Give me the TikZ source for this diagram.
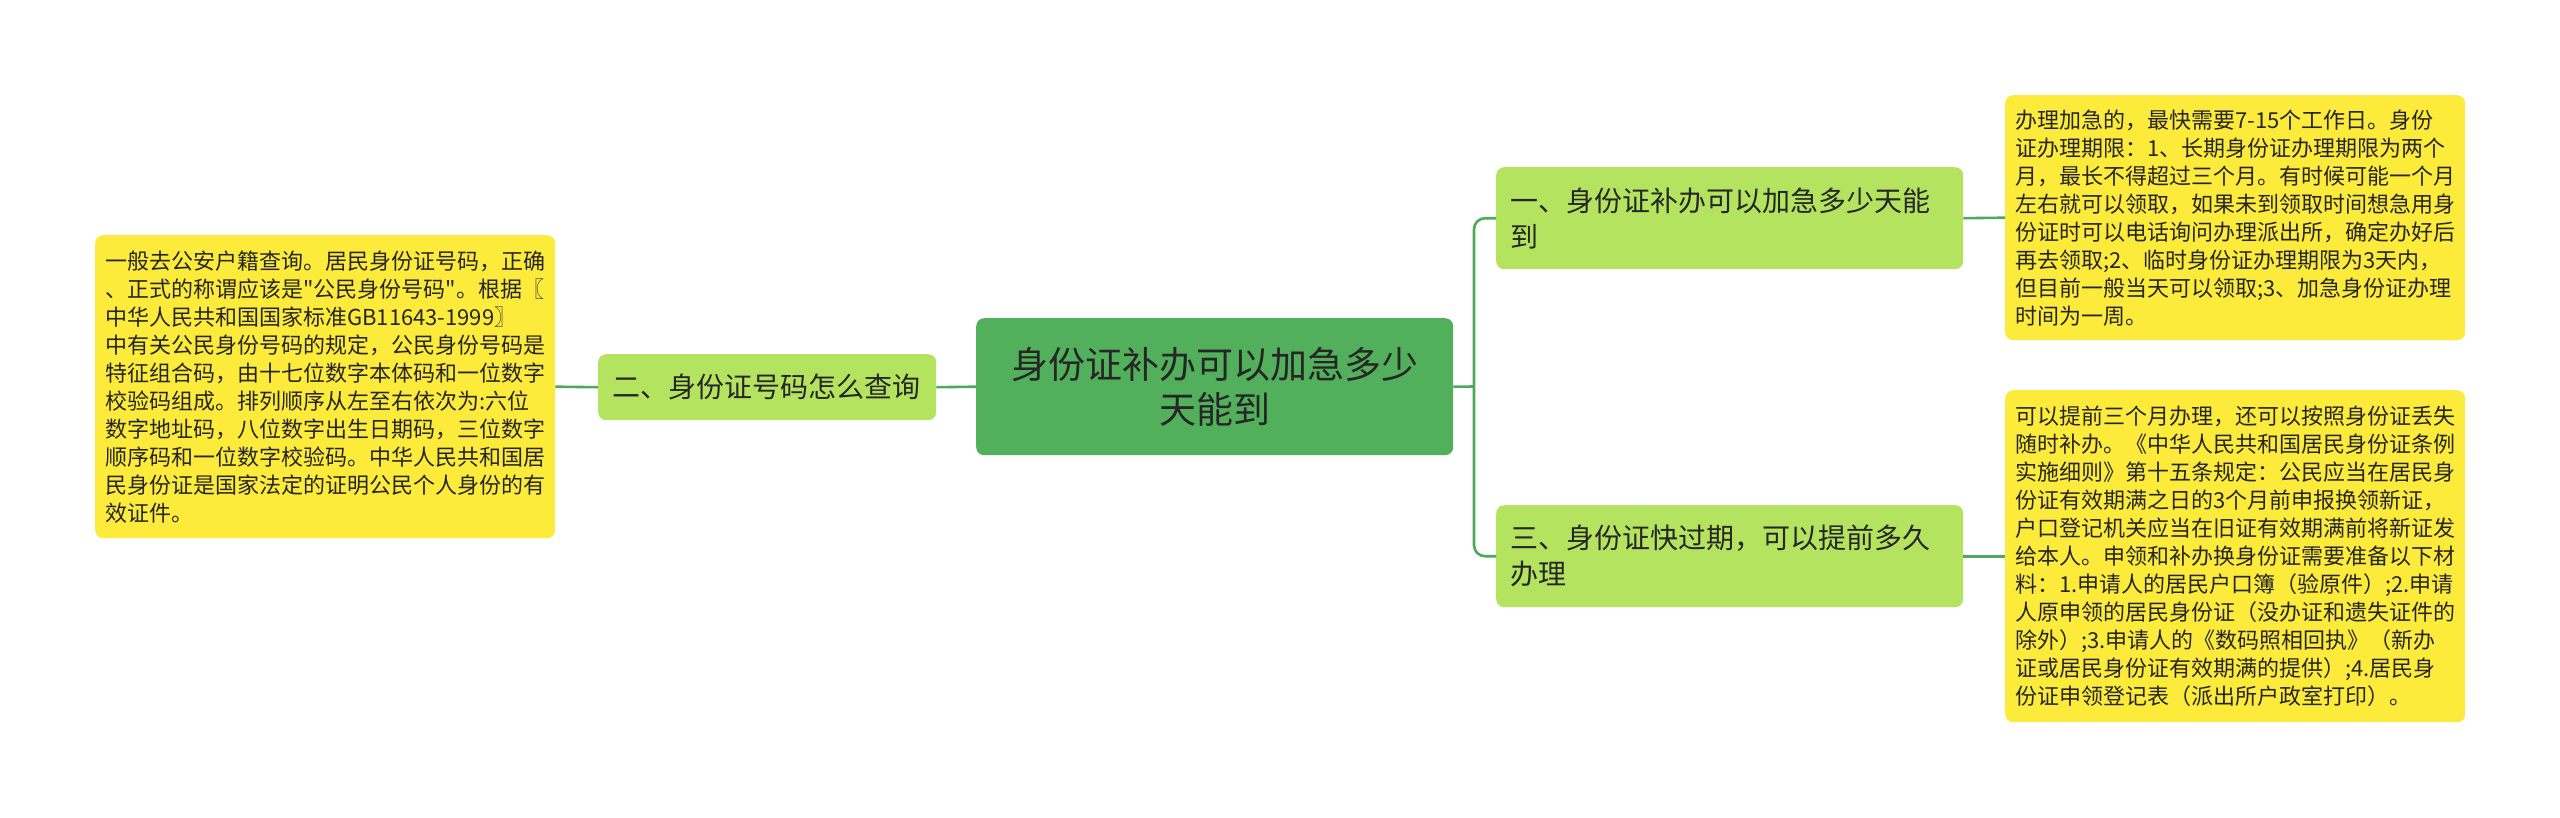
\documentclass[tikz,border=0pt]{standalone}
\usepackage{fontspec}
\newfontfamily\cjk{Noto Sans CJK SC}
\definecolor{yel}{HTML}{FDEB3C}
\definecolor{lgreen}{HTML}{B4E45F}
\definecolor{dgreen}{HTML}{52AF5B}
\definecolor{linec}{HTML}{4FA95A}
\definecolor{txt}{HTML}{262626}
\begin{document}
\begin{tikzpicture}[x=1pt,y=-1pt,
  box/.style={anchor=north west, inner sep=0pt, rounded corners=8pt, text=txt},
  note/.style={box, fill=yel, font=\cjk\fontsize{22}{28}\selectfont, align=left},
  topic/.style={box, fill=lgreen, font=\cjk\fontsize{28}{36}\selectfont, align=left},
  root/.style={box, fill=dgreen, font=\cjk\fontsize{37}{45}\selectfont, align=center},
  conn/.style={draw=linec, line width=2.6pt}]
\useasboundingbox (0,0) rectangle (2560,817);
% root
\node[root, minimum width=477pt, minimum height=137pt, text width=457pt] (c) at (976,318) {身份证补办可以加急多少\\天能到};
% topics
\node[topic, minimum width=338pt, minimum height=66pt, text width=310pt] (n2) at (598,354) {二、身份证号码怎么查询};
\node[topic, minimum width=467pt, minimum height=102pt, text width=439pt] (n1) at (1496,167) {一、身份证补办可以加急多少天能\\到};
\node[topic, minimum width=467pt, minimum height=102pt, text width=439pt] (n3) at (1496,505) {三、身份证快过期，可以提前多久\\办理};
% notes
\node[note, minimum width=460pt, minimum height=303pt, text width=440pt] (y1) at (95,235) {一般去公安户籍查询。居民身份证号码，正确\\、正式的称谓应该是"公民身份号码"。根据〖\\中华人民共和国国家标准GB11643-1999〗\\中有关公民身份号码的规定，公民身份号码是\\特征组合码，由十七位数字本体码和一位数字\\校验码组成。排列顺序从左至右依次为:六位\\数字地址码，八位数字出生日期码，三位数字\\顺序码和一位数字校验码。中华人民共和国居\\民身份证是国家法定的证明公民个人身份的有\\效证件。};
\node[note, minimum width=460pt, minimum height=245pt, text width=440pt] (y2) at (2005,95) {办理加急的，最快需要7-15个工作日。身份\\证办理期限：1、长期身份证办理期限为两个\\月，最长不得超过三个月。有时候可能一个月\\左右就可以领取，如果未到领取时间想急用身\\份证时可以电话询问办理派出所，确定办好后\\再去领取;2、临时身份证办理期限为3天内，\\但目前一般当天可以领取;3、加急身份证办理\\时间为一周。};
\node[note, minimum width=460pt, minimum height=332pt, text width=440pt] (y3) at (2005,390) {可以提前三个月办理，还可以按照身份证丢失\\随时补办。《中华人民共和国居民身份证条例\\实施细则》第十五条规定：公民应当在居民身\\份证有效期满之日的3个月前申报换领新证，\\户口登记机关应当在旧证有效期满前将新证发\\给本人。申领和补办换身份证需要准备以下材\\料：1.申请人的居民户口簿（验原件）;2.申请\\人原申领的居民身份证（没办证和遗失证件的\\除外）;3.申请人的《数码照相回执》（新办\\证或居民身份证有效期满的提供）;4.居民身\\份证申领登记表（派出所户政室打印）。};
% connectors
\coordinate (jr) at (1474,386.5);
\draw[conn] (c.east) -- (jr);
\draw[conn, rounded corners=11pt] (n1.west) -| (jr) |- (n3.west);
\draw[conn] (c.west) -- (n2.east);
\draw[conn] (n2.west) -- (y1.east);
\draw[conn] (n1.east) -- (y2.west);
\draw[conn] (n3.east) -- (y3.west);
\end{tikzpicture}
\end{document}
